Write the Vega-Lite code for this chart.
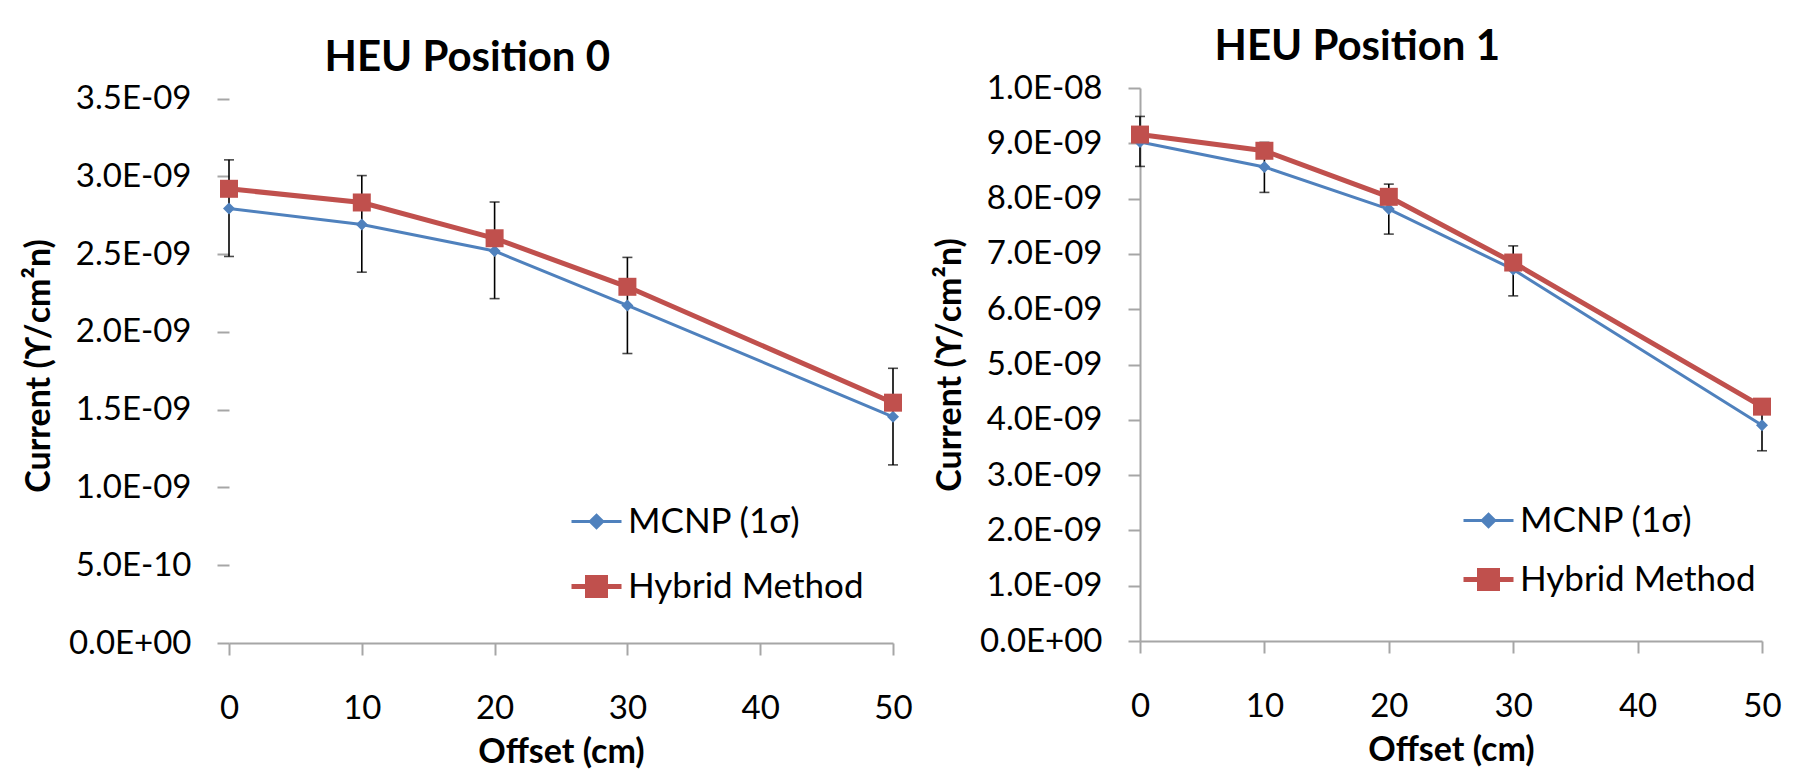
{
  "$schema": "https://vega.github.io/schema/vega-lite/v6.json",
  "padding": {"left": 22, "top": 26, "right": 0, "bottom": 0},
  "background": "white",
  "spacing": 20,
  "resolve": {
    "scale": {"color": "independent", "stroke": "independent", "shape": "independent", "strokeWidth": "independent"},
    "legend": {"color": "independent", "stroke": "independent", "shape": "independent", "strokeWidth": "independent"}
  },
  "config": {
    "font": "Lato",
    "view": {"stroke": null},
    "title": {"font": "Lato", "fontSize": 42, "fontWeight": "bold", "color": "black", "anchor": "middle", "frame": "bounds"},
    "axis": {
      "domainColor": "#a6a6a6", "domainWidth": 2, "tickColor": "#a6a6a6", "tickWidth": 2, "tickSize": 12,
      "labelFont": "Lato", "labelFontSize": 33, "labelColor": "black",
      "titleFont": "Lato", "titleFontSize": 34, "titleFontWeight": "bold", "titleColor": "black", "grid": false
    },
    "axisX": {"labelPadding": 37, "titlePadding": 10, "labelFlush": false},
    "axisY": {"labelPadding": 26, "titlePadding": 12,
      "labelExpr": "datum.value == 0 ? '0.0E+00' : format(datum.value / pow(10, floor(log(datum.value) / LN10 + 1e-6)), '.1f') + 'E' + (floor(log(datum.value) / LN10 + 1e-6) < 0 ? '-' : '+') + (abs(floor(log(datum.value) / LN10 + 1e-6)) < 10 ? '0' : '') + abs(floor(log(datum.value) / LN10 + 1e-6))"},
    "legend": {"title": null, "orient": "none", "symbolSize": 2500, "labelFont": "Lato", "labelFontSize": 35, "labelColor": "black", "labelOffset": 4, "padding": 0, "labelLimit": 0, "symbolOpacity": 1}
  },
  "datasets": {
    "pts": [
      {"panel": 0, "series": "MCNP (1σ)", "x": 0, "y": 2.794e-9, "lo": 2.485e-9, "hi": 3.106e-9},
      {"panel": 0, "series": "MCNP (1σ)", "x": 10, "y": 2.690e-9, "lo": 2.384e-9, "hi": 3.005e-9},
      {"panel": 0, "series": "MCNP (1σ)", "x": 20, "y": 2.520e-9, "lo": 2.214e-9, "hi": 2.835e-9},
      {"panel": 0, "series": "MCNP (1σ)", "x": 30, "y": 2.170e-9, "lo": 1.861e-9, "hi": 2.479e-9},
      {"panel": 0, "series": "MCNP (1σ)", "x": 50, "y": 1.454e-9, "lo": 1.145e-9, "hi": 1.766e-9},
      {"panel": 0, "series": "Hybrid Method", "x": 0, "y": 2.920e-9},
      {"panel": 0, "series": "Hybrid Method", "x": 10, "y": 2.832e-9},
      {"panel": 0, "series": "Hybrid Method", "x": 20, "y": 2.602e-9},
      {"panel": 0, "series": "Hybrid Method", "x": 30, "y": 2.290e-9},
      {"panel": 0, "series": "Hybrid Method", "x": 50, "y": 1.545e-9},
      {"panel": 1, "series": "MCNP (1σ)", "x": 0, "y": 9.025e-9, "lo": 8.582e-9, "hi": 9.486e-9},
      {"panel": 1, "series": "MCNP (1σ)", "x": 10, "y": 8.573e-9, "lo": 8.112e-9, "hi": 9.016e-9},
      {"panel": 1, "series": "MCNP (1σ)", "x": 20, "y": 7.810e-9, "lo": 7.358e-9, "hi": 8.262e-9},
      {"panel": 1, "series": "MCNP (1σ)", "x": 30, "y": 6.720e-9, "lo": 6.241e-9, "hi": 7.145e-9},
      {"panel": 1, "series": "MCNP (1σ)", "x": 50, "y": 3.900e-9, "lo": 3.440e-9, "hi": 4.344e-9},
      {"panel": 1, "series": "Hybrid Method", "x": 0, "y": 9.158e-9},
      {"panel": 1, "series": "Hybrid Method", "x": 10, "y": 8.865e-9},
      {"panel": 1, "series": "Hybrid Method", "x": 20, "y": 8.032e-9},
      {"panel": 1, "series": "Hybrid Method", "x": 30, "y": 6.844e-9},
      {"panel": 1, "series": "Hybrid Method", "x": 50, "y": 4.238e-9}
    ]
  },
  "hconcat": [
    {
      "title": {"text": "HEU Position 0", "offset": 3},
      "width": 664, "height": 555,
      "data": {"name": "pts"},
      "transform": [{"filter": "datum.panel == 0"}],
      "encoding": {
        "x": {"field": "x", "type": "quantitative", "scale": {"domain": [0, 50], "nice": false}, "axis": {"values": [0, 10, 20, 30, 40, 50], "title": "Offset (cm)"}}
      },
      "layer": [
        {
          "data": {"values": [{}]},
          "mark": {"type": "rule", "color": "#a6a6a6", "strokeWidth": 2},
          "encoding": {"x": {"datum": 0}, "y": {"datum": 0}, "y2": {"datum": 3.5e-9}}
        },
        {
          "transform": [{"filter": "datum.series == 'MCNP (1σ)'"}],
          "mark": {"type": "errorbar", "ticks": true, "thickness": 1.6, "size": 10, "color": "black"},
          "encoding": {
            "y": {"field": "lo", "type": "quantitative", "scale": {"domain": [0, 3.568e-9], "nice": false}, "axis": {"values": [0, 5e-10, 1e-9, 1.5e-9, 2e-9, 2.5e-9, 3e-9, 3.5e-9], "title": "Current (ϒ/cm²n)", "domain": false}},
            "y2": {"field": "hi"}
          }
        },
        {
          "transform": [{"filter": "datum.series == 'MCNP (1σ)'"}],
          "mark": {"type": "line", "color": "#4F81BD", "strokeWidth": 3},
          "encoding": {"y": {"field": "y", "type": "quantitative"}}
        },
        {
          "transform": [{"filter": "datum.series == 'Hybrid Method'"}],
          "mark": {"type": "line", "color": "#C0504D", "strokeWidth": 5},
          "encoding": {"y": {"field": "y", "type": "quantitative"}}
        },
        {
          "transform": [{"filter": "datum.series == 'MCNP (1σ)'"}],
          "mark": {"type": "point", "filled": true, "opacity": 1, "shape": "diamond", "size": 144, "color": "#4F81BD"},
          "encoding": {"y": {"field": "y", "type": "quantitative"}}
        },
        {
          "transform": [{"filter": "datum.series == 'Hybrid Method'"}],
          "mark": {"type": "point", "filled": true, "opacity": 1, "shape": "square", "size": 324, "color": "#C0504D"},
          "encoding": {"y": {"field": "y", "type": "quantitative"}}
        },
        {
          "transform": [{"filter": "false"}],
          "mark": {"type": "point", "filled": true, "opacity": 1},
          "encoding": {
            "y": {"field": "y", "type": "quantitative"},
            "color": {"field": "series", "type": "nominal", "scale": {"domain": ["MCNP (1σ)", "Hybrid Method"], "range": ["#4F81BD", "#C0504D"]},
              "legend": {"legendX": 340, "legendY": 407, "rowPadding": 19}},
            "stroke": {"field": "series", "type": "nominal", "scale": {"domain": ["MCNP (1σ)", "Hybrid Method"], "range": ["#4F81BD", "#C0504D"]},
              "legend": {"legendX": 340, "legendY": 407, "rowPadding": 19}},
            "strokeWidth": {"field": "series", "type": "nominal", "scale": {"domain": ["MCNP (1σ)", "Hybrid Method"], "range": [3, 5]},
              "legend": {"legendX": 340, "legendY": 407, "rowPadding": 19}},
            "shape": {"field": "series", "type": "nominal", "scale": {"domain": ["MCNP (1σ)", "Hybrid Method"], "range": ["M-1,0H1M0,-0.25L0.25,0L0,0.25L-0.25,0Z", "M-1,0H1M-0.36,-0.36H0.36V0.36H-0.36Z"]},
              "legend": {"legendX": 340, "legendY": 407, "rowPadding": 19}}
          }
        }
      ]
    },
    {
      "title": {"text": "HEU Position 1", "offset": 3},
      "width": 622, "height": 553,
      "data": {"name": "pts"},
      "transform": [{"filter": "datum.panel == 1"}],
      "encoding": {
        "x": {"field": "x", "type": "quantitative", "scale": {"domain": [0, 50], "nice": false}, "axis": {"values": [0, 10, 20, 30, 40, 50], "title": "Offset (cm)"}}
      },
      "layer": [
        {
          "transform": [{"filter": "datum.series == 'MCNP (1σ)'"}],
          "mark": {"type": "errorbar", "ticks": true, "thickness": 1.6, "size": 10, "color": "black"},
          "encoding": {
            "y": {"field": "lo", "type": "quantitative", "scale": {"domain": [0, 1e-8], "nice": false}, "axis": {"values": [0, 1e-9, 2e-9, 3e-9, 4e-9, 5e-9, 6e-9, 7e-9, 8e-9, 9e-9, 1e-8], "title": "Current (ϒ/cm²n)"}},
            "y2": {"field": "hi"}
          }
        },
        {
          "transform": [{"filter": "datum.series == 'MCNP (1σ)'"}],
          "mark": {"type": "line", "color": "#4F81BD", "strokeWidth": 3},
          "encoding": {"y": {"field": "y", "type": "quantitative"}}
        },
        {
          "transform": [{"filter": "datum.series == 'Hybrid Method'"}],
          "mark": {"type": "line", "color": "#C0504D", "strokeWidth": 5},
          "encoding": {"y": {"field": "y", "type": "quantitative"}}
        },
        {
          "transform": [{"filter": "datum.series == 'MCNP (1σ)'"}],
          "mark": {"type": "point", "filled": true, "opacity": 1, "shape": "diamond", "size": 144, "color": "#4F81BD"},
          "encoding": {"y": {"field": "y", "type": "quantitative"}}
        },
        {
          "transform": [{"filter": "datum.series == 'Hybrid Method'"}],
          "mark": {"type": "point", "filled": true, "opacity": 1, "shape": "square", "size": 324, "color": "#C0504D"},
          "encoding": {"y": {"field": "y", "type": "quantitative"}}
        },
        {
          "transform": [{"filter": "false"}],
          "mark": {"type": "point", "filled": true, "opacity": 1},
          "encoding": {
            "y": {"field": "y", "type": "quantitative"},
            "color": {"field": "series", "type": "nominal", "scale": {"domain": ["MCNP (1σ)", "Hybrid Method"], "range": ["#4F81BD", "#C0504D"]},
              "legend": {"legendX": 321, "legendY": 406, "rowPadding": 13}},
            "stroke": {"field": "series", "type": "nominal", "scale": {"domain": ["MCNP (1σ)", "Hybrid Method"], "range": ["#4F81BD", "#C0504D"]},
              "legend": {"legendX": 321, "legendY": 406, "rowPadding": 13}},
            "strokeWidth": {"field": "series", "type": "nominal", "scale": {"domain": ["MCNP (1σ)", "Hybrid Method"], "range": [3, 5]},
              "legend": {"legendX": 321, "legendY": 406, "rowPadding": 13}},
            "shape": {"field": "series", "type": "nominal", "scale": {"domain": ["MCNP (1σ)", "Hybrid Method"], "range": ["M-1,0H1M0,-0.25L0.25,0L0,0.25L-0.25,0Z", "M-1,0H1M-0.36,-0.36H0.36V0.36H-0.36Z"]},
              "legend": {"legendX": 321, "legendY": 406, "rowPadding": 13}}
          }
        }
      ]
    }
  ]
}
